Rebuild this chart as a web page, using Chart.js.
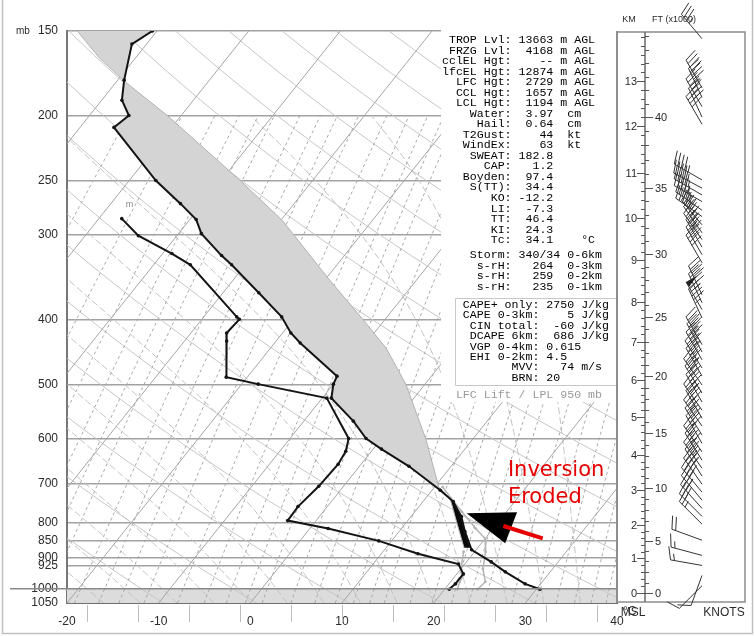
<!DOCTYPE html>
<html>
<head>
<meta charset="utf-8">
<script src="https://cdn.jsdelivr.net/npm/chart.js@4.4.1/dist/chart.umd.min.js"></script>
<style>
    html, body { margin: 0; padding: 0; background: #fff; }
    canvas { display: block; }
</style>
</head>
<body>
<canvas id="skewt" width="756" height="636"></canvas>
<script>
// ======================= Sounding data (mb / °C) =======================
const tempP = [150, 156.8, 177.3, 189.8, 200, 208.2, 249.5, 269.9, 284.9, 298.9, 322, 332.3, 365.5, 396.7, 419, 433.6, 485.3, 498.7, 523, 565.6, 600, 622, 659.5, 715.4, 743.5, 782.6, 823.7, 876, 913, 944.5, 983.7, 1002];
const tempT = [-60.5, -61.6, -59.3, -57.8, -55.7, -56.3, -47.1, -42.4, -39.3, -37.5, -33.4, -31.5, -26.1, -21.5, -19.1, -17.2, -10.3, -10.0, -9.0, -4.6, -1.7, 0.9, 5.4, 10.9, 13.3, 15.5, 17.2, 19.5, 22.7, 25.1, 28.3, 30.4];

const dewP = [284, 301, 319.8, 332.3, 396.7, 400, 419, 430.6, 487, 498.7, 523, 600, 626.7, 655, 706, 756.3, 793.3, 815, 850, 888, 919.5, 951, 983.7, 1002];
const dewT = [-47.5, -44.2, -39.0, -36.0, -26.4, -25.9, -26.1, -25.4, -22.3, -18.2, -9.5, -3.6, -2.8, -2.5, -2.7, -3.2, -3.1, 2.0, 8.6, 14.0, 19.3, 20.7, 20.7, 20.5];

const parcelP = [150, 164.5, 177.9, 200, 250.3, 285.9, 348.5, 398, 441, 498.7, 600, 708.5, 736, 796, 870];
const parcelT = [-68.7, -63.9, -59.2, -51.5, -37.7, -29.8, -19.7, -12.7, -7.4, -2.1, 4.8, 10.5, 12.7, 15.4, 18.5];

// earlier sounding (gray)
const oldTempP = [708, 769.4, 815, 843.4, 881.9, 935, 977, 1002];
const oldTempT = [10.9, 15.1, 18.1, 20.0, 21.2, 22.4, 23.8, 23.6];
const oldDewP = [881.9, 935, 954.2, 977, 1002];
const oldDewT = [18.8, 20.0, 20.8, 21.0, 21.4];

// winds
const windP = [154, 182, 188, 194, 201, 206, 249, 256, 262, 268, 276, 282, 290, 298, 305, 313, 321, 330, 368, 378, 387, 398, 436, 447, 459, 472, 485, 500, 514, 530, 545, 560, 575, 593, 610, 628, 646, 664, 682, 701, 720, 740, 761, 782, 803, 848, 893, 924, 956, 990];
const windDir = [320, 330, 335, 330, 335, 330, 300, 298, 300, 300, 305, 305, 320, 325, 325, 330, 330, 330, 335, 335, 330, 335, 330, 332, 330, 328, 330, 325, 328, 330, 325, 330, 325, 328, 330, 325, 328, 325, 328, 325, 320, 320, 318, 315, 315, 290, 285, 280, 200, 225];
const windSpd = [35, 40, 45, 45, 40, 40, 45, 45, 45, 45, 45, 45, 40, 45, 45, 40, 40, 40, 40, 45, 55, 45, 45, 45, 45, 45, 45, 40, 40, 45, 40, 40, 40, 40, 40, 35, 40, 45, 45, 40, 40, 35, 30, 30, 25, 20, 15, 15, 10, 10];

// axes
const pressureTicks = [150, 200, 250, 300, 400, 500, 600, 700, 800, 850, 900, 925, 1000, 1050];
const kmTicks = [0, 1, 2, 3, 4, 5, 6, 7, 8, 9, 10, 11, 12, 13];
const kmPressure = [1016, 902, 806, 715, 635, 558, 492, 432, 377, 327, 283, 243, 207, 178];
const ftTicks = [0, 5, 10, 15, 20, 25, 30, 35, 40];
const fahrenheitTicks = [0, 10, 20, 30, 40, 50, 60, 70, 80, 90, 100];
const mixingRatios = [0.1, 0.2, 0.3, 0.4, 0.5, 0.6, 0.8, 1, 1.2, 1.5, 2, 2.5, 3, 3.5, 4, 5, 6, 7, 8, 9, 10, 12, 14, 16, 18, 20, 24, 28, 32, 36, 40, 44, 48];
const surfaceP = 1000;
const lfcP = 712;
const lclP = 870;

// text panel
const indexLines = [
    " TROP Lvl: 13663 m AGL",
    " FRZG Lvl:  4168 m AGL",
    "cclEL Hgt:    -- m AGL",
    "lfcEL Hgt: 12874 m AGL",
    "  LFC Hgt:  2729 m AGL",
    "  CCL Hgt:  1657 m AGL",
    "  LCL Hgt:  1194 m AGL",
    "    Water:  3.97  cm",
    "     Hail:  0.64  cm",
    "   T2Gust:    44  kt",
    "   WindEx:    63  kt",
    "    SWEAT: 182.8",
    "      CAP:   1.2",
    "   Boyden:  97.4",
    "    S(TT):  34.4",
    "       KO: -12.2",
    "       LI:  -7.3",
    "       TT:  46.4",
    "       KI:  24.3",
    "       Tc:  34.1    °C"
];
const stormLines = [
    "    Storm: 340/34 0-6km",
    "     s-rH:   264  0-3km",
    "     s-rH:   259  0-2km",
    "     s-rH:   235  0-1km"
];
const capeLines = [
    "   CAPE+ only: 2750 J/kg",
    "   CAPE 0-3km:    5 J/kg",
    "    CIN total:  -60 J/kg",
    "    DCAPE 6km:  686 J/kg",
    "    VGP 0-4km: 0.615",
    "    EHI 0-2km: 4.5",
    "          MVV:   74 m/s",
    "          BRN: 20"
];

const SKEW = 25.6;
const P_BOTTOM = 1050;

function skewX(t, p) {
    return t + SKEW * Math.log(P_BOTTOM / p);
}

function toPoints(ps, ts) {
    return ps.map((p, i) => ({ x: skewX(ts[i], p), y: p }));
}

function interpT(ps, ts, p) {
    if (p <= ps[0]) return ts[0];
    for (let i = 0; i < ps.length - 1; i++) {
        if (p >= ps[i] && p <= ps[i + 1]) {
            const f = (Math.log(p) - Math.log(ps[i])) / (Math.log(ps[i + 1]) - Math.log(ps[i]));
            return ts[i] + f * (ts[i + 1] - ts[i]);
        }
    }
    return ts[ts.length - 1];
}

// profile points between pTop and pBot, ordered top -> bottom
function segment(ps, ts, pTop, pBot) {
    const pts = [[interpT(ps, ts, pTop), pTop]];
    ps.forEach((p, i) => { if (p > pTop && p < pBot) pts.push([ts[i], p]); });
    pts.push([interpT(ps, ts, pBot), pBot]);
    return pts;
}

function kmToP(h) {
    let i = Math.min(Math.max(Math.floor(h), 0), kmTicks.length - 2);
    const f = h - kmTicks[i];
    const a = Math.log(kmPressure[i]), b = Math.log(kmPressure[i + 1]);
    return Math.exp(a + f * (b - a));
}

function satVap(t) {
    return 6.112 * Math.exp(17.67 * t / (t + 243.5));
}

const FONT = "'Liberation Sans', Arial, sans-serif";
const MONO = "'Liberation Mono', 'Courier New', monospace";

// ======================= Background + fills =======================
const skewPlugin = {
    id: "skewBackground",
    beforeDatasetsDraw(chart) {
        const { ctx, chartArea: a, scales: { x, y } } = chart;
        const px = (t, p) => x.getPixelForValue(skewX(t, p));
        const py = p => y.getPixelForValue(p);

        ctx.save();
        ctx.beginPath();
        ctx.rect(a.left, a.top, a.right - a.left, a.bottom - a.top);
        ctx.clip();

        // below ground
        ctx.fillStyle = "#dcdcdc";
        ctx.fillRect(a.left, py(surfaceP), a.right - a.left, a.bottom - py(surfaceP));

        ctx.lineWidth = 1;

        // dry adiabats
        ctx.strokeStyle = "#c6c6c6";
        ctx.setLineDash([]);
        for (let th = 250; th <= 470; th += 10) {
            ctx.beginPath();
            for (let p = 1050; p >= 150; p -= 10) {
                const t = th * Math.pow(p / 1000, 0.2857) - 273.15;
                p === 1050 ? ctx.moveTo(px(t, p), py(p)) : ctx.lineTo(px(t, p), py(p));
            }
            ctx.stroke();
        }

        // moist adiabats
        ctx.strokeStyle = "#c2c2c2";
        ctx.setLineDash([7, 3]);
        for (let t0 = -16; t0 <= 36; t0 += 4) {
            let tk = t0 + 273.15;
            ctx.beginPath();
            ctx.moveTo(px(t0, 1050), py(1050));
            for (let p = 1050; p > 200; p -= 5) {
                const es = satVap(tk - 273.15);
                const rs = 0.622 * es / (p - es);
                const dTdp = (287 * tk + 2.5e6 * rs) / (p * (1004 + 2.5e6 * 2.5e6 * rs * 0.622 / (287 * tk * tk)));
                tk -= dTdp * 5;
                ctx.lineTo(px(tk - 273.15, p - 5), py(p - 5));
            }
            ctx.stroke();
        }

        // mixing ratio lines
        ctx.strokeStyle = "#a9a9a9";
        ctx.setLineDash([3, 3]);
        mixingRatios.forEach(w => {
            ctx.beginPath();
            for (let p = 1050; p >= 200; p -= 25) {
                const e = w * p / (622 + w);
                const l = Math.log(e / 6.112);
                const td = 243.5 * l / (17.67 - l);
                p === 1050 ? ctx.moveTo(px(td, p), py(p)) : ctx.lineTo(px(td, p), py(p));
            }
            ctx.stroke();
        });

        // isotherms
        ctx.setLineDash([]);
        ctx.strokeStyle = "#a6a6a6";
        for (let t = -120; t <= 40; t += 10) {
            ctx.beginPath();
            ctx.moveTo(px(t, 1050), py(1050));
            ctx.lineTo(px(t, 150), py(150));
            ctx.stroke();
        }

        // CAPE (gray) and CIN (black) areas
        const area = (pTop, pBot, color) => {
            const parcel = segment(parcelP, parcelT, pTop, pBot);
            const env = segment(tempP, tempT, pTop, pBot).reverse();
            ctx.beginPath();
            parcel.concat(env).forEach(([t, p], i) => {
                i === 0 ? ctx.moveTo(px(t, p), py(p)) : ctx.lineTo(px(t, p), py(p));
            });
            ctx.closePath();
            ctx.fillStyle = color;
            ctx.fill();
        };
        area(150, lfcP, "#d4d4d4");
        area(lfcP, lclP, "#0a0a0a");

        ctx.restore();
    },

    afterDatasetsDraw(chart) {
        const { ctx, chartArea: a, scales: { x, y } } = chart;
        const py = p => y.getPixelForValue(p);
        ctx.save();

        // surface line reaching past the axis
        ctx.strokeStyle = "#8a8a8a";
        ctx.lineWidth = 1.5;
        ctx.beginPath();
        ctx.moveTo(10, py(surfaceP));
        ctx.lineTo(a.right, py(surfaceP));
        ctx.stroke();

        // index panel
        ctx.fillStyle = "#fff";
        ctx.fillRect(441, 28, a.right - 441, 374);
        ctx.font = "11.6px " + MONO;
        ctx.fillStyle = "#000";
        ctx.textBaseline = "middle";
        ctx.textAlign = "left";
        indexLines.forEach((s, i) => ctx.fillText(s, 442, 40 + i * 10.53));
        stormLines.forEach((s, i) => ctx.fillText(s, 442, 255 + i * 10.6));
        capeLines.forEach((s, i) => ctx.fillText(s, 442, 305 + i * 10.4));
        ctx.strokeStyle = "#c8c8c8";
        ctx.lineWidth = 1;
        ctx.beginPath();
        ctx.moveTo(a.right, 298.5);
        ctx.lineTo(455.5, 298.5);
        ctx.lineTo(455.5, 385.5);
        ctx.lineTo(a.right, 385.5);
        ctx.stroke();
        ctx.fillStyle = "#9a9a9a";
        ctx.fillText("  LFC Lift / LPL 950 mb", 442, 395);

        // right edge of the diagram
        ctx.strokeStyle = "#777";
        ctx.lineWidth = 1.5;
        ctx.beginPath();
        ctx.moveTo(a.right, a.top);
        ctx.lineTo(a.right, a.bottom);
        ctx.stroke();

        // Fahrenheit ticks under the axis
        ctx.strokeStyle = "#bdbdbd";
        ctx.lineWidth = 1;
        fahrenheitTicks.forEach(f => {
            const xp = Math.round(x.getPixelForValue((f - 32) * 5 / 9)) + 0.5;
            ctx.beginPath();
            ctx.moveTo(xp, a.bottom + 2);
            ctx.lineTo(xp, a.bottom + 19);
            ctx.stroke();
        });

        ctx.fillStyle = "#2a2a2a";
        ctx.font = "12px " + FONT;
        ctx.textAlign = "left";
        ctx.fillText("°C", 623, 612);
        ctx.font = "10px " + FONT;
        ctx.fillText("mb", 16, 31);
        ctx.fillStyle = "#888";
        ctx.font = "9px " + FONT;
        ctx.fillText("m", x.getPixelForValue(-13.6), py(271));

        // ---------------- wind panel ----------------
        const left = 617, right = 745, top = 32, bottom = 602, axisX = 645, baseX = 702;
        ctx.strokeStyle = "#8c8c8c";
        ctx.lineWidth = 1.5;
        ctx.strokeRect(left, top, right - left, bottom - top);
        ctx.strokeStyle = "#6a6a6a";
        ctx.beginPath();
        ctx.moveTo(axisX, top);
        ctx.lineTo(axisX, bottom);
        ctx.stroke();

        ctx.lineWidth = 1;
        ctx.strokeStyle = "#555";
        for (let h = 0; h <= 14.2; h += 0.2) {
            const yp = py(kmToP(h));
            if (yp < top + 2) continue;
            ctx.beginPath();
            ctx.moveTo(axisX - 4, Math.round(yp) + 0.5);
            ctx.lineTo(axisX, Math.round(yp) + 0.5);
            ctx.stroke();
        }
        for (let k = 0; k <= 46; k++) {
            const yp = py(kmToP(k * 0.3048));
            if (yp < top + 2) continue;
            ctx.beginPath();
            ctx.moveTo(axisX, Math.round(yp) + 0.5);
            ctx.lineTo(axisX + 4, Math.round(yp) + 0.5);
            ctx.stroke();
        }

        ctx.font = "11px " + FONT;
        ctx.fillStyle = "#2a2a2a";
        ctx.textBaseline = "middle";
        kmTicks.forEach((k, i) => {
            const yp = Math.round(py(kmPressure[i])) + 0.5;
            ctx.beginPath();
            ctx.moveTo(axisX - 8, yp);
            ctx.lineTo(axisX, yp);
            ctx.stroke();
            ctx.textAlign = "right";
            ctx.fillText(String(k), axisX - 8, yp);
        });
        ftTicks.forEach(f => {
            const yp = Math.round(py(kmToP(f * 0.3048))) + 0.5;
            ctx.beginPath();
            ctx.moveTo(axisX, yp);
            ctx.lineTo(axisX + 8, yp);
            ctx.stroke();
            ctx.textAlign = "left";
            ctx.fillText(String(f), axisX + 10, yp);
        });

        ctx.font = "9px " + FONT;
        ctx.textAlign = "center";
        ctx.fillText("KM", 629, 20);
        ctx.textAlign = "left";
        ctx.fillText("FT (x1000)", 652, 20);
        ctx.font = "12px " + FONT;
        ctx.textAlign = "center";
        ctx.fillText("MSL", 633, 613);
        ctx.fillText("KNOTS", 724, 613);

        ctx.strokeStyle = "#333";
        ctx.fillStyle = "#222";
        ctx.lineWidth = 1;
        windP.forEach((p, i) => drawBarb(ctx, baseX, py(p), windDir[i], windSpd[i]));

        // ---------------- annotation ----------------
        const ax = v => x.getPixelForValue(v);
        ctx.fillStyle = "#000";
        ctx.beginPath();
        ctx.moveTo(ax(23.6), py(774));
        ctx.lineTo(ax(29.1), py(771));
        ctx.lineTo(ax(27.8), py(857));
        ctx.closePath();
        ctx.fill();
        ctx.strokeStyle = "#e60000";
        ctx.lineWidth = 4;
        ctx.beginPath();
        ctx.moveTo(ax(31.9), py(843));
        ctx.lineTo(ax(27.6), py(808));
        ctx.stroke();
        ctx.fillStyle = "#e60000";
        ctx.font = "21px 'DejaVu Sans', sans-serif";
        ctx.textAlign = "left";
        ctx.textBaseline = "alphabetic";
        ctx.fillText("Inversion", ax(28.1), py(682));
        ctx.fillText("Eroded", ax(28.1), py(748));

        // outer frame
        ctx.strokeStyle = "#c0c0c0";
        ctx.lineWidth = 1.5;
        ctx.strokeRect(2.5, -2, 750, 635.5);

        ctx.restore();
    }
};

function drawBarb(ctx, x0, y0, dir, spd) {
    const ang = dir * Math.PI / 180;
    const ux = Math.sin(ang), uy = -Math.cos(ang);
    const nx = -uy, ny = ux;
    const L = 32, B = 13;
    ctx.beginPath();
    ctx.moveTo(x0, y0);
    ctx.lineTo(x0 + ux * L, y0 + uy * L);
    ctx.stroke();

    let s = Math.round(spd / 5) * 5;
    let d = L;
    while (s >= 50) {
        ctx.beginPath();
        ctx.moveTo(x0 + ux * d, y0 + uy * d);
        ctx.lineTo(x0 + ux * d + nx * B, y0 + uy * d + ny * B);
        ctx.lineTo(x0 + ux * (d - 6), y0 + uy * (d - 6));
        ctx.closePath();
        ctx.fill();
        d -= 8;
        s -= 50;
    }
    while (s >= 10) {
        ctx.beginPath();
        ctx.moveTo(x0 + ux * d, y0 + uy * d);
        ctx.lineTo(x0 + ux * (d + 4) + nx * B, y0 + uy * (d + 4) + ny * B);
        ctx.stroke();
        d -= 4;
        s -= 10;
    }
    if (s >= 5) {
        if (d === L) d -= 4;
        ctx.beginPath();
        ctx.moveTo(x0 + ux * d, y0 + uy * d);
        ctx.lineTo(x0 + ux * (d + 2) + nx * B / 2, y0 + uy * (d + 2) + ny * B / 2);
        ctx.stroke();
    }
}

// ======================= Chart =======================
const lineStyle = (color, width, radius) => ({
    showLine: true,
    borderColor: color,
    borderWidth: width,
    pointRadius: radius,
    pointBackgroundColor: color,
    pointBorderWidth: 0,
    tension: 0
});

new Chart(document.getElementById("skewt"), {
    type: "scatter",
    data: {
        datasets: [
            { label: "Temperature", data: toPoints(tempP, tempT), ...lineStyle("#141414", 2, 1.8) },
            { label: "Dewpoint", data: toPoints(dewP, dewT), ...lineStyle("#141414", 2, 1.8) },
            { label: "Parcel", data: toPoints(parcelP, parcelT), ...lineStyle("#b2b2b2", 1, 0) },
            { label: "Earlier temperature", data: toPoints(oldTempP, oldTempT), ...lineStyle("#b4b4b4", 1.5, 1.4) },
            { label: "Earlier dewpoint", data: toPoints(oldDewP, oldDewT), ...lineStyle("#b4b4b4", 1.5, 1.4) }
        ]
    },
    options: {
        responsive: false,
        animation: false,
        devicePixelRatio: 1,
        layout: { padding: { top: 31, right: 139, left: 0, bottom: 0 } },
        plugins: { legend: { display: false }, tooltip: { enabled: false } },
        scales: {
            x: {
                type: "linear",
                min: -20,
                max: 40,
                ticks: { stepSize: 10, padding: 3, color: "#2a2a2a", font: { size: 12, family: FONT } },
                grid: { display: false },
                border: { color: "#6e6e6e", width: 2 },
                afterFit: s => { s.height = 33; }
            },
            y: {
                type: "logarithmic",
                reverse: true,
                min: 150,
                max: 1050,
                afterBuildTicks: s => { s.ticks = pressureTicks.map(v => ({ value: v })); },
                ticks: { autoSkip: false, padding: 9, color: "#2a2a2a", font: { size: 12, family: FONT }, callback: v => String(v) },
                grid: { color: "#a2a2a2", lineWidth: 1.5, drawTicks: false },
                border: { color: "#777", width: 2 },
                afterFit: s => { s.width = 67; }
            }
        }
    },
    plugins: [skewPlugin]
});
</script>
</body>
</html>
